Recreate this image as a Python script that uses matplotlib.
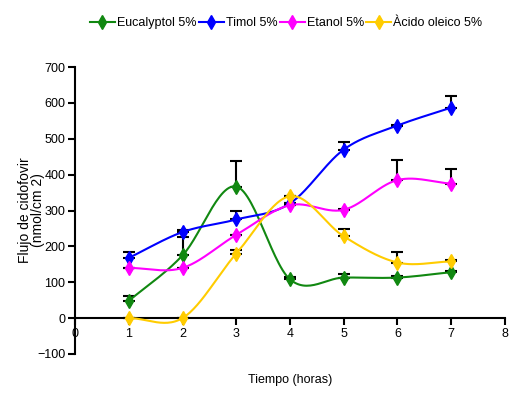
import numpy as np
import matplotlib
matplotlib.use("Agg")
import matplotlib.pyplot as plt

plt.rcParams['font.family'] = ['Liberation Sans', 'DejaVu Sans']

horas = [1, 2, 3, 4, 5, 6, 7]
eucaliptol = [48, 175, 367, 108, 113, 113, 128]
eucaliptol_err = [14, 52, 70, 6, 10, 3, 3]
timol = [168, 240, 275, 320, 470, 537, 587]
timol_err = [17, 5, 25, 0, 20, 3, 32]
etanol = [140, 140, 232, 315, 302, 385, 375]
etanol_err = [0, 0, 0, 0, 3, 55, 40]
oleico = [0, 0, 180, 340, 228, 155, 158]
oleico_err = [0, 0, 10, 0, 20, 30, 3]
etiquetas = ['Eucalyptol 5%', 'Timol 5%', 'Etanol 5%', 'Àcido oleico 5%']
colores = ['#118811', '#0000ff', '#ff00ff', '#ffcc00']


def suavizar(x, y, n=30):
    # curva Catmull-Rom que pasa por los puntos
    x = np.asarray(x, float); y = np.asarray(y, float)
    d = np.gradient(y, x)
    xs_all, ys_all = [], []
    for i in range(len(x) - 1):
        h = x[i + 1] - x[i]
        t = np.linspace(0, 1, n)
        h00 = 2 * t**3 - 3 * t**2 + 1; h10 = t**3 - 2 * t**2 + t
        h01 = -2 * t**3 + 3 * t**2; h11 = t**3 - t**2
        xs_all.append(x[i] + t * h)
        ys_all.append(h00 * y[i] + h10 * h * d[i] + h01 * y[i + 1] + h11 * h * d[i + 1])
    return np.concatenate(xs_all), np.concatenate(ys_all)


fig = plt.figure(figsize=(5.11, 3.95), dpi=100)
ax = fig.add_axes([0.147, 0.104, 0.841, 0.726])

series = [(eucaliptol, eucaliptol_err), (timol, timol_err), (etanol, etanol_err), (oleico, oleico_err)]
for (vals, err), lab, c in zip(series, etiquetas, colores):
    ax.errorbar(horas, vals, yerr=[np.zeros(len(err)), err], fmt='none', ecolor='black',
                elinewidth=1.5, capsize=4, capthick=1.5, zorder=2)
    xs, ys = suavizar(horas, vals)
    ax.plot(xs, ys, color=c, lw=1.5, zorder=3)
    ax.plot(horas, vals, linestyle='none', marker='d', color=c, ms=7, zorder=4)
    ax.plot([], [], color=c, lw=1.5, marker='d', ms=7, label=lab)

ax.set_xlim(0, 8)
ax.set_ylim(-100, 700)
ax.set_xticks(range(0, 9))
ax.set_yticks(range(-100, 701, 100))
ax.spines['top'].set_visible(False)
ax.spines['right'].set_visible(False)
ax.spines['bottom'].set_position(('data', 0))
ax.spines['left'].set_linewidth(1.5)
ax.spines['bottom'].set_linewidth(1.5)
ax.tick_params(direction='out', width=1.5, length=5, labelsize=9, pad=2)
for lbl in ax.get_xticklabels():
    lbl.set_y(-0.035)
ax.set_ylabel('Flujo de cidofovir\n(nmol/cm 2)', fontsize=10, linespacing=0.95)
ax.yaxis.set_label_coords(-0.07, 0.5)
fig.text(0.567, 0.03, 'Tiempo (horas)', ha='center', fontsize=9)

fig.legend(loc='upper center', bbox_to_anchor=(0.56, 0.985), ncol=4, frameon=False,
           fontsize=9, handlelength=2.0, handletextpad=0.15, columnspacing=0.2)

fig.savefig('out.png', dpi=100)
